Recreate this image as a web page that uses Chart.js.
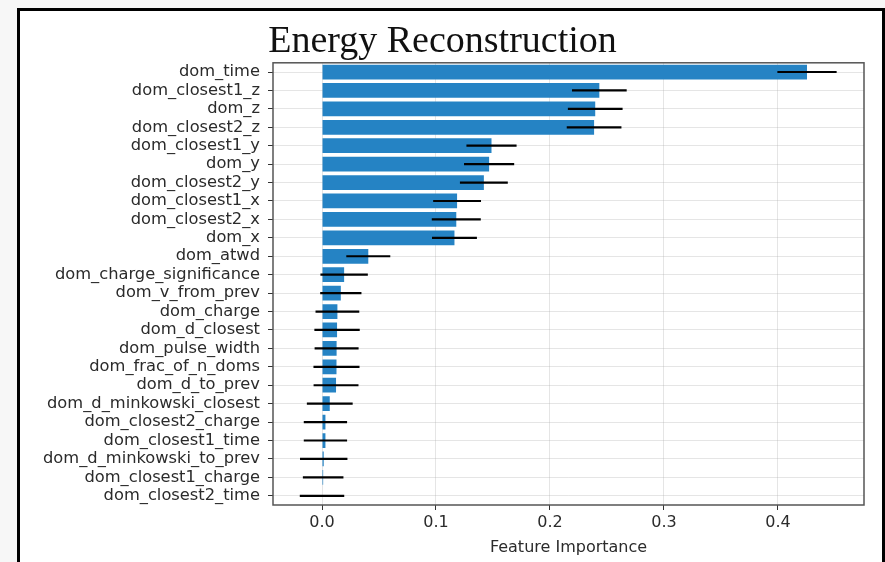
<!DOCTYPE html>
<html>
<head>
<meta charset="utf-8">
<script src="https://cdn.jsdelivr.net/npm/chart.js@4/dist/chart.umd.min.js"></script>
<style>
  html, body { margin: 0; padding: 0; background: #f7f7f7; }
  #wrap { position: relative; width: 885px; height: 562px; overflow: hidden; }
  #frame {
    position: absolute; left: 17px; top: 8px; width: 868px; height: 600px;
    box-sizing: border-box; border: 3px solid #000; background: #fff;
  }
  #chart { position: absolute; left: 0; top: 0; }
</style>
</head>
<body>
<div id="wrap">
  <div id="frame"></div>
  <canvas id="chart" width="885" height="562"></canvas>
</div>
<script>
// Features, top to bottom
const categories = [
  "dom_time", "dom_closest1_z", "dom_z", "dom_closest2_z",
  "dom_closest1_y", "dom_y", "dom_closest2_y",
  "dom_closest1_x", "dom_closest2_x", "dom_x",
  "dom_atwd", "dom_charge_significance", "dom_v_from_prev", "dom_charge",
  "dom_d_closest", "dom_pulse_width", "dom_frac_of_n_doms", "dom_d_to_prev",
  "dom_d_minkowski_closest", "dom_closest2_charge", "dom_closest1_time",
  "dom_d_minkowski_to_prev", "dom_closest1_charge", "dom_closest2_time"
];

// importance (bar length) and std (error bar half width)
const importance = [
  0.4255, 0.2433, 0.2397, 0.2387,
  0.1487, 0.1466, 0.1420,
  0.1185, 0.1178, 0.1162,
  0.0406, 0.0194, 0.0165, 0.0135,
  0.0132, 0.0128, 0.0127, 0.0123,
  0.0068, 0.0030, 0.0030,
  0.0015, 0.0010, 0.0000
];
const importanceErr = [
  0.026, 0.024, 0.024, 0.024,
  0.022, 0.022, 0.021,
  0.021, 0.0215, 0.0197,
  0.0193, 0.0208, 0.0181, 0.0192,
  0.0199, 0.0193, 0.0202, 0.0197,
  0.0201, 0.019, 0.019,
  0.0208, 0.0178, 0.0195
];

const xTicks = [0.0, 0.1, 0.2, 0.3, 0.4];

const gridColor = "rgba(170,170,170,0.3)";
const textColor = "#2b2b2b";

// error bars + axes box, drawn over everything like matplotlib
const errorBars = {
  id: "errorBars",
  afterDraw(chart) {
    const ctx = chart.ctx;
    const xs = chart.scales.x;
    const meta = chart.getDatasetMeta(0);
    ctx.save();
    ctx.strokeStyle = "#000";
    ctx.lineWidth = 2.2;
    meta.data.forEach((bar, i) => {
      const x1 = xs.getPixelForValue(importance[i] - importanceErr[i]);
      const x2 = xs.getPixelForValue(importance[i] + importanceErr[i]);
      ctx.beginPath();
      ctx.moveTo(x1, bar.y);
      ctx.lineTo(x2, bar.y);
      ctx.stroke();
    });
    const a = chart.chartArea;
    ctx.strokeStyle = "#555";
    ctx.lineWidth = 1.5;
    ctx.strokeRect(a.left, a.top, a.right - a.left, a.bottom - a.top);
    ctx.restore();
  }
};

new Chart(document.getElementById("chart"), {
  type: "bar",
  data: {
    labels: categories,
    datasets: [{
      data: importance,
      backgroundColor: "#2583c4",
      borderWidth: 0,
      barPercentage: 0.8,
      categoryPercentage: 1.0
    }]
  },
  options: {
    indexAxis: "y",
    responsive: false,
    animation: false,
    devicePixelRatio: 1,
    layout: { padding: { left: 21, right: 21, top: 0, bottom: 0 } },
    plugins: {
      legend: { display: false },
      tooltip: { enabled: false },
      title: {
        display: true,
        text: "Energy Reconstruction",
        color: "#111",
        font: { family: "Liberation Serif", size: 38, weight: "normal", lineHeight: 1.1 },
        padding: { top: 21, bottom: 0 }
      }
    },
    scales: {
      x: {
        type: "linear",
        min: -0.0430,
        max: 0.4755,
        z: 1,
        afterBuildTicks: (scale) => { scale.ticks = xTicks.map(v => ({ value: v })); },
        afterFit: (scale) => { scale.height = 57; },
        border: { display: false },
        grid: { color: gridColor, lineWidth: 1, tickLength: 5, tickColor: "#333" },
        ticks: {
          color: textColor,
          padding: 3,
          font: { family: "DejaVu Sans", size: 16 },
          callback: (v) => Number(v).toFixed(1)
        },
        title: {
          display: true,
          text: "Feature Importance",
          color: textColor,
          font: { family: "DejaVu Sans", size: 16 },
          padding: { top: 0, bottom: 5 }
        }
      },
      y: {
        z: 1,
        afterFit: (scale) => { scale.width = 252; },
        border: { display: false },
        grid: { offset: false, color: gridColor, lineWidth: 1, tickLength: 5, tickColor: "#333" },
        ticks: {
          color: textColor,
          padding: 8,
          autoSkip: false,
          font: { family: "DejaVu Sans", size: 16.3 }
        }
      }
    }
  },
  plugins: [errorBars]
});
</script>
</body>
</html>
